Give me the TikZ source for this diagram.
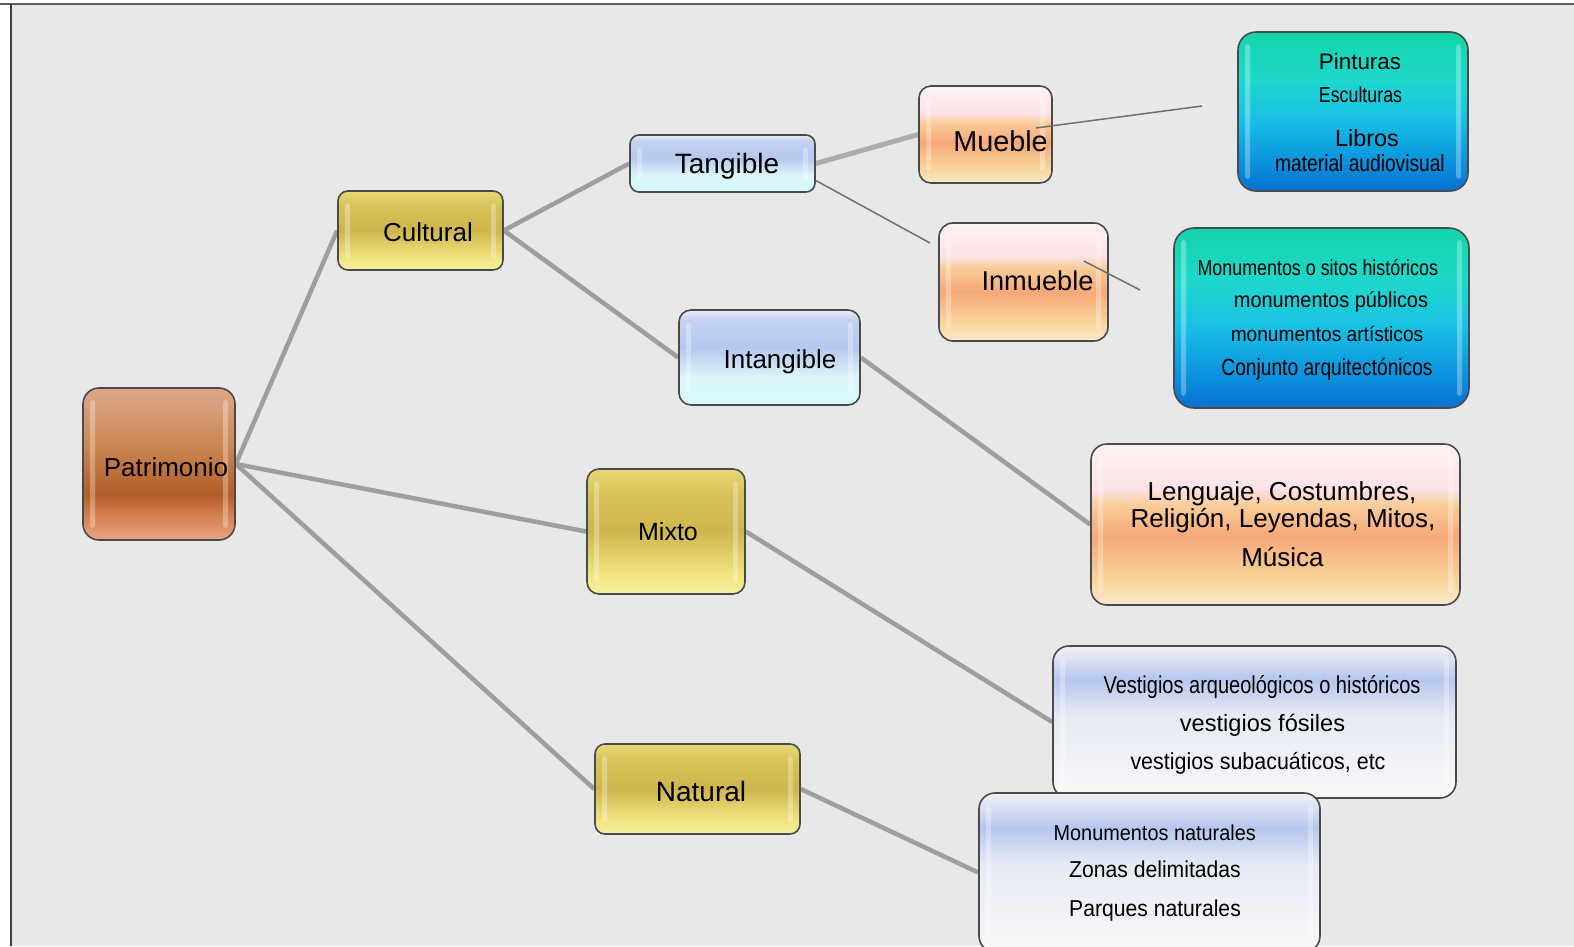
\documentclass[tikz,border=0pt]{standalone}
\usepackage{fontspec}
\setmainfont{Liberation Sans}
\newfontfamily\nA[FakeStretch=0.82]{Liberation Sans}
\newfontfamily\nB[FakeStretch=0.92]{Liberation Sans}
\definecolor{bgc}{HTML}{E8E8E8}
\definecolor{frameTop}{HTML}{606060}
\definecolor{frameLeft}{HTML}{404040}
\definecolor{bord}{HTML}{4A4A4A}
\definecolor{lnc}{HTML}{9E9E9E}
\definecolor{thinc}{HTML}{6E6E6E}
% copper
\definecolor{cuA}{HTML}{E7A585}\definecolor{cuB}{HTML}{D68050}\definecolor{cuC}{HTML}{B35D27}
\definecolor{cuD}{HTML}{C9844F}\definecolor{cuE}{HTML}{D9A07E}\definecolor{cuF}{HTML}{DCA888}
% gold
\definecolor{goA}{HTML}{F6F0A0}\definecolor{goB}{HTML}{F0E480}\definecolor{goC}{HTML}{CFB64C}
\definecolor{goD}{HTML}{D8C258}\definecolor{goE}{HTML}{E6D874}
% blue
\definecolor{blA}{HTML}{D4FCFC}\definecolor{blB}{HTML}{DCF4FA}\definecolor{blC}{HTML}{B6C8EE}
\definecolor{blD}{HTML}{C4D2F0}\definecolor{blE}{HTML}{E8EEF8}
% orange
\definecolor{orA}{HTML}{FBE8D0}\definecolor{orB}{HTML}{F8D69A}\definecolor{orC}{HTML}{F6A878}
\definecolor{orD}{HTML}{F9CC98}\definecolor{orE}{HTML}{FCE2E6}\definecolor{orF}{HTML}{FDF2F2}
% teal
\definecolor{teA}{HTML}{0670D0}\definecolor{teB}{HTML}{0A8CDC}\definecolor{teC}{HTML}{18C0E4}
\definecolor{teD}{HTML}{1ED8CC}\definecolor{teE}{HTML}{12D4A8}
% pale
\definecolor{paA}{HTML}{F8F8F8}\definecolor{paB}{HTML}{E6EAF4}\definecolor{paC}{HTML}{B6C6EE}
\definecolor{paD}{HTML}{F2F2F6}
\pgfdeclareverticalshading{copper}{100bp}{color(0bp)=(cuA); color(25bp)=(cuA); color(33bp)=(cuB); color(40bp)=(cuC); color(55bp)=(cuD); color(70bp)=(cuE); color(75bp)=(cuF); color(100bp)=(cuF)}
\pgfdeclareverticalshading{gold}{100bp}{color(0bp)=(goA); color(25bp)=(goA); color(33bp)=(goB); color(50bp)=(goC); color(65bp)=(goD); color(75bp)=(goE); color(100bp)=(goE)}
\pgfdeclareverticalshading{bluesh}{100bp}{color(0bp)=(blA); color(25bp)=(blA); color(40bp)=(blB); color(55bp)=(blC); color(70bp)=(blD); color(75bp)=(blE); color(100bp)=(blE)}
\pgfdeclareverticalshading{orangesh}{100bp}{color(0bp)=(orA); color(25bp)=(orA); color(32.5bp)=(orB); color(46bp)=(orC); color(56bp)=(orD); color(61bp)=(orE); color(75bp)=(orF); color(100bp)=(orF)}
\pgfdeclareverticalshading{tealsh}{100bp}{color(0bp)=(teA); color(25bp)=(teA); color(32.5bp)=(teB); color(47.5bp)=(teC); color(60bp)=(teD); color(75bp)=(teE); color(100bp)=(teE)}
\pgfdeclareverticalshading{palesh}{100bp}{color(0bp)=(paA); color(25bp)=(paA); color(52.5bp)=(paB); color(64bp)=(paC); color(75bp)=(paD); color(100bp)=(paD)}
\pgfdeclarelayer{background}
\pgfsetlayers{background,main}
\tikzset{
  box/.style={draw=bord, line width=1.6pt, inner sep=0pt,
    path picture={
      \fill[white,opacity=0.3,rounded corners=3pt] ([xshift=7pt,yshift=-12pt]path picture bounding box.north west) rectangle ([xshift=12pt,yshift=12pt]path picture bounding box.south west);
      \fill[white,opacity=0.3,rounded corners=3pt] ([xshift=-7pt,yshift=-12pt]path picture bounding box.north east) rectangle ([xshift=-12pt,yshift=12pt]path picture bounding box.south east);
    }},
  lbl/.style={inner sep=0pt, anchor=base, text=black},
  thick link/.style={draw=lnc, line width=4.5pt},
  thin link/.style={draw=thinc, line width=1.5pt}
}
\begin{document}
\begin{tikzpicture}[x=1pt,y=-1pt]
\useasboundingbox (0,0) rectangle (1574,946);

% boxes
\node[box, shading=copper, rounded corners=16pt, minimum width=152pt, minimum height=152pt] (patr) at (159,464) {};
\node[box, shading=gold, rounded corners=10pt, minimum width=165pt, minimum height=79pt] (cult) at (420.5,230.5) {};
\node[box, shading=bluesh, rounded corners=9pt, minimum width=185pt, minimum height=57pt] (tang) at (722.5,163.5) {};
\node[box, shading=bluesh, rounded corners=12pt, minimum width=181pt, minimum height=95pt] (intang) at (769.5,357.5) {};
\node[box, shading=orangesh, rounded corners=12pt, minimum width=133pt, minimum height=97pt] (mueb) at (985.5,134.5) {};
\node[box, shading=orangesh, rounded corners=14pt, minimum width=169pt, minimum height=118pt] (inmu) at (1023.5,282) {};
\node[box, shading=gold, rounded corners=12pt, minimum width=158pt, minimum height=125pt] (mixto) at (666,531.5) {};
\node[box, shading=gold, rounded corners=10pt, minimum width=205pt, minimum height=90pt] (natu) at (697.5,789) {};
\node[box, shading=tealsh, rounded corners=18pt, minimum width=230pt, minimum height=159pt] (pint) at (1353,111.5) {};
\node[box, shading=tealsh, rounded corners=20pt, minimum width=295pt, minimum height=180pt] (monu) at (1321.5,318) {};
\node[box, shading=orangesh, rounded corners=16pt, minimum width=369pt, minimum height=161pt] (leng) at (1275.5,524.5) {};
\node[box, shading=palesh, rounded corners=16pt, minimum width=403pt, minimum height=152pt] (vest) at (1254.5,722) {};
\node[box, shading=palesh, rounded corners=16pt, minimum width=341pt, minimum height=159pt] (mn) at (1149.5,872.5) {};

% background and thick connectors
\begin{pgfonlayer}{background}
\fill[white] (0,0) rectangle (1574,946);
\fill[bgc] (12,5) rectangle (1574,946);
\draw[line width=2pt, frameTop] (0,4) -- (1574,4);
\draw[line width=2.5pt, frameLeft] (11,4) -- (11,946);
\draw[thick link] (patr.east) -- (cult.west);
\draw[thick link] (patr.east) -- (mixto.west);
\draw[thick link] (patr.east) -- (natu.west);
\draw[thick link] (cult.east) -- (tang.west);
\draw[thick link] (cult.east) -- (intang.west);
\draw[thick link, draw=lnc!85!white, line width=5pt] (tang.east) -- (mueb.west);
\draw[thick link] (intang.east) -- (leng.west);
\draw[thick link] (mixto.east) -- (vest.west);
\draw[thick link] (natu.east) -- (mn.west);
\end{pgfonlayer}

% thin connectors with free ends
\coordinate (endA) at (930,243);
\coordinate (endB) at (1202,106);
\coordinate (endC) at (1140,290);
\draw[thin link] ([yshift=-17pt]tang.east) -- (endA);
\draw[thin link] ([xshift=-17pt,yshift=6.5pt]mueb.east) -- (endB);
\draw[thin link] ([xshift=-25pt,yshift=21pt]inmu.east) -- (endC);

% labels
\node[lbl, font=\fontsize{26}{26}\selectfont] (tPatr) at (166,476) {Patrimonio};
\node[lbl, font=\fontsize{26}{26}\selectfont] (tCult) at (428,241) {Cultural};
\node[lbl, font=\fontsize{28}{28}\selectfont] (tTang) at (727,173.3) {Tangible};
\node[lbl, font=\fontsize{26}{26}\selectfont] (tIntang) at (780,368) {Intangible};
\node[lbl, font=\fontsize{28.8}{28.8}\selectfont] (tMueb) at (1000.5,151) {Mueble};
\node[lbl, font=\fontsize{27.2}{27.2}\selectfont] (tInmu) at (1037.5,290) {Inmueble};
\node[lbl, font=\fontsize{25}{25}\selectfont] (tMixto) at (668,540) {Mixto};
\node[lbl, font=\fontsize{28}{28}\selectfont] (tNatu) at (701,801) {Natural};

\node[lbl, font=\fontsize{22.4}{22.4}\selectfont] (tP1) at (1360,69.3) {Pinturas};
\node[lbl, font=\nA\fontsize{21.7}{21.7}\selectfont] (tP2) at (1360.5,102.7) {Esculturas};
\node[lbl, font=\fontsize{23.4}{23.4}\selectfont] (tP3) at (1367,146) {Libros};
\node[lbl, font=\nA\fontsize{23.4}{23.4}\selectfont] (tP4) at (1360,171.7) {material audiovisual};

\node[lbl, font=\nA\fontsize{21.8}{21.8}\selectfont] (tM1) at (1317.8,275) {Monumentos o sitos históricos};
\node[lbl, font=\nB\fontsize{21.7}{21.7}\selectfont] (tM2) at (1331,307.3) {monumentos públicos};
\node[lbl, font=\nB\fontsize{20.8}{20.8}\selectfont] (tM3) at (1327,341.7) {monumentos artísticos};
\node[lbl, font=\nA\fontsize{23.4}{23.4}\selectfont] (tM4) at (1327,375) {Conjunto arquitectónicos};

\node[lbl, font=\fontsize{26}{26}\selectfont] (tL1) at (1282,500) {Lenguaje, Costumbres,};
\node[lbl, font=\fontsize{26}{26}\selectfont] (tL2) at (1283,527) {Religión, Leyendas, Mitos,};
\node[lbl, font=\fontsize{26}{26}\selectfont] (tL3) at (1282.5,566) {Música};

\node[lbl, font=\nA\fontsize{24.4}{24.4}\selectfont] (tV1) at (1262,693.3) {Vestigios arqueológicos o históricos};
\node[lbl, font=\fontsize{23.6}{23.6}\selectfont] (tV2) at (1262.5,731) {vestigios fósiles};
\node[lbl, font=\nB\fontsize{23.3}{23.3}\selectfont] (tV3) at (1258,769) {vestigios subacuáticos, etc};

\node[lbl, font=\nB\fontsize{21.6}{21.6}\selectfont] (tN1) at (1154.7,840) {Monumentos naturales};
\node[lbl, font=\nB\fontsize{23}{23}\selectfont] (tN2) at (1155,877.3) {Zonas delimitadas};
\node[lbl, font=\nB\fontsize{23}{23}\selectfont] (tN3) at (1155,916.7) {Parques naturales};
\end{tikzpicture}
\end{document}
